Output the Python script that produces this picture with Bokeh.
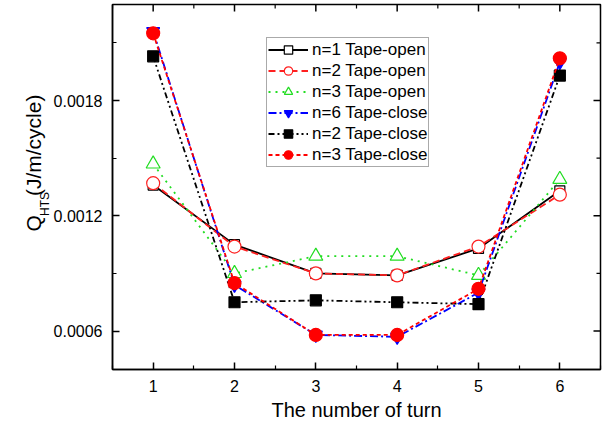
import math
from bokeh.plotting import figure
from bokeh.layouts import row
from bokeh.models import FixedTicker, PrintfTickFormatter, Label, Range1d, Legend
from bokeh.embed import file_html
from bokeh.resources import INLINE

turns = [1, 2, 3, 4, 5, 6]
n1_open = [0.00136, 0.00105, 0.00090, 0.00089, 0.00103, 0.00133]
n2_open = [0.00137, 0.00104, 0.00090, 0.00089, 0.00104, 0.00131]
n3_open = [0.00147, 0.00090, 0.00099, 0.00099, 0.00089, 0.00139]
n6_close = [0.00216, 0.00084, 0.00058, 0.00057, 0.00080, 0.00200]
n2_close = [0.00203, 0.00075, 0.00076, 0.00075, 0.00074, 0.00193]
n3_close = [0.00215, 0.00085, 0.00058, 0.00058, 0.00082, 0.00202]

y_ticks = [0.0006, 0.0012, 0.0018]
y_minor = [0.0009, 0.0015, 0.0021]
x_minor = [0.5, 1.5, 2.5, 3.5, 4.5, 5.5, 6.5]

FONT = "Liberation Sans"
X0, X1, Y0, Y1 = 0.5, 6.5, 0.0004, 0.0023

p = figure(width=561, height=423, output_backend="svg", toolbar_location=None,
           x_range=Range1d(X0, X1), y_range=Range1d(Y0, Y1),
           min_border_left=60, min_border_right=11, min_border_top=4,
           min_border_bottom=54)
p.background_fill_color = "white"
p.border_fill_color = "white"
p.outline_line_color = "black"
p.outline_line_width = 1.5
p.xgrid.visible = False
p.ygrid.visible = False

series = [
    ("n=1 Tape-open", n1_open, "black", "solid", "square", 10, "white"),
    ("n=2 Tape-open", n2_open, "#FF2020", "7 4", "circle", 13, "white"),
    ("n=3 Tape-open", n3_open, "#22DD22", "2 5", "triangle", 14, "white"),
    ("n=6 Tape-close", n6_close, "#0000FF", "8 3 2 3", "inverted_triangle", 13, "#0000FF"),
    ("n=2 Tape-close", n2_close, "black", "6 3 2 3 2 3", "square", 11, "black"),
    ("n=3 Tape-close", n3_close, "#FF0000", "4 3", "circle", 13, "#FF0000"),
]

items = []
for name, ys, col, dash, mk, sz, fill in series:
    r1 = p.line(turns, ys, line_color=col, line_width=1.8, line_dash=dash)
    r2 = p.scatter(turns, ys, marker=mk, size=sz, line_color=col,
                   fill_color=fill, line_width=1.2)
    items.append((name, [r1, r2]))

legend = Legend(items=items, location=(154, 202))
legend.label_text_font = FONT
legend.label_text_font_size = "17px"
legend.label_text_color = "black"
legend.label_height = 21
legend.glyph_height = 21
legend.glyph_width = 40
legend.label_standoff = 4
legend.spacing = 0
legend.padding = 1
legend.margin = 0
legend.border_line_color = "#555555"
legend.border_line_width = 1.2
legend.background_fill_alpha = 1.0
p.add_layout(legend, "center")

xa = p.xaxis[0]
xa.ticker = FixedTicker(ticks=turns, minor_ticks=x_minor)
ya = p.yaxis[0]
ya.ticker = FixedTicker(ticks=y_ticks, minor_ticks=y_minor)
ya.formatter = PrintfTickFormatter(format="%.4f")

for ax in (xa, ya):
    ax.major_tick_in = 7
    ax.major_tick_out = 0
    ax.minor_tick_in = 4
    ax.minor_tick_out = 0
    ax.axis_line_width = 1.5
    ax.axis_line_color = "black"
    ax.major_tick_line_color = "black"
    ax.minor_tick_line_color = "black"
    ax.major_tick_line_width = 1.5
    ax.minor_tick_line_width = 1.2
    ax.major_label_text_font = FONT
    ax.major_label_text_font_size = "16px"
    ax.major_label_text_color = "black"
    ax.major_label_standoff = 10

xa.axis_label = "The number of turn"
xa.axis_label_text_font = FONT
xa.axis_label_text_font_size = "20px"
xa.axis_label_text_font_style = "normal"
xa.axis_label_text_color = "black"
xa.axis_label_standoff = 4

# mirrored inward ticks on top and right edges
p.ray(x=turns, y=[Y1] * len(turns), length=7, length_units="screen",
      angle=-math.pi / 2, line_color="black", line_width=1.5)
p.ray(x=x_minor, y=[Y1] * len(x_minor), length=4, length_units="screen",
      angle=-math.pi / 2, line_color="black", line_width=1.2)
p.ray(x=[X1] * len(y_ticks), y=y_ticks, length=7, length_units="screen",
      angle=math.pi, line_color="black", line_width=1.5)
p.ray(x=[X1] * len(y_minor), y=y_minor, length=4, length_units="screen",
      angle=math.pi, line_color="black", line_width=1.2)

# left strip holding the y-axis title (Q with subscript HTS)
H = 423
t = figure(width=50, height=H, output_backend="svg", toolbar_location=None,
           x_range=Range1d(0, 50), y_range=Range1d(0, H),
           x_axis_location=None, y_axis_location=None,
           min_border=0, min_border_left=0, min_border_right=0,
           min_border_top=0, min_border_bottom=0)
t.outline_line_color = None
t.xgrid.visible = False
t.ygrid.visible = False
t.background_fill_color = "white"
t.border_fill_color = "white"

for txt, bx, by, fs in [("Q", 33, 263, "21px"), ("HTS", 44, 245, "12px"),
                        ("(J/m/cycle)", 33, 222, "21px")]:
    t.add_layout(Label(x=bx, y=H - by, text=txt, angle=math.pi / 2,
                       text_font=FONT, text_font_size=fs,
                       text_baseline="alphabetic", text_align="left",
                       text_color="black"))

layout = row(t, p, spacing=0)
open("out.html", "w").write(file_html(layout, INLINE))
